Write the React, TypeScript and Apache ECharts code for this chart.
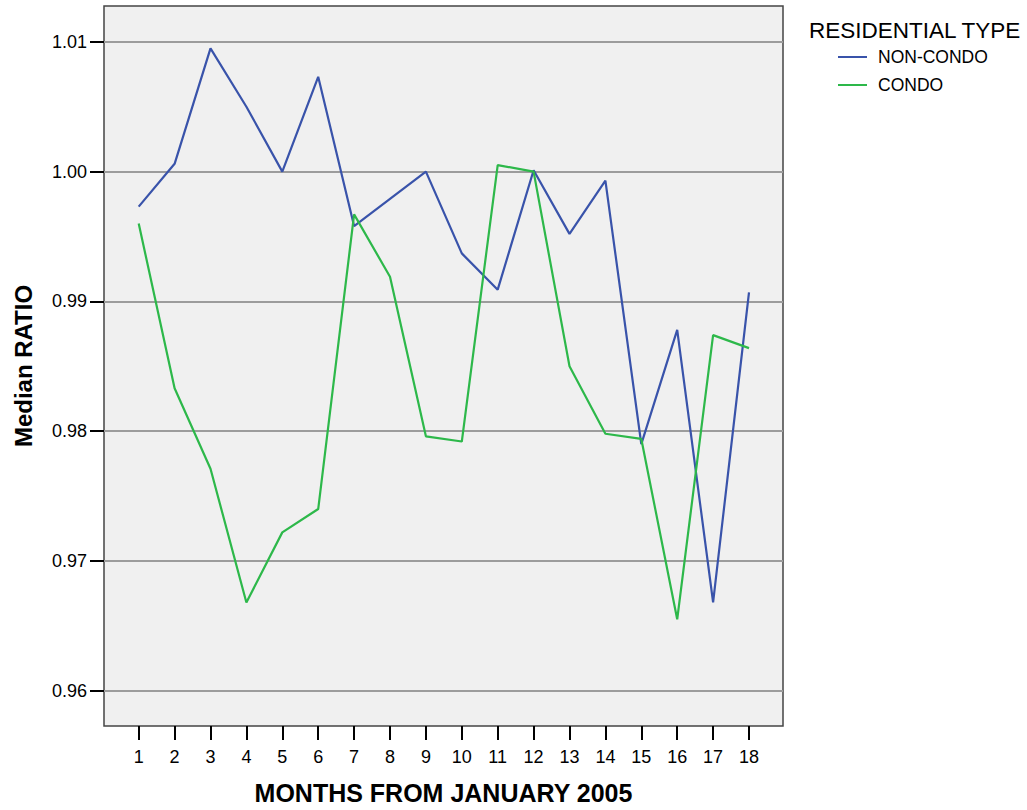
import React, { useEffect, useRef } from "react";
import * as echarts from "echarts";

const months = [1, 2, 3, 4, 5, 6, 7, 8, 9, 10, 11, 12, 13, 14, 15, 16, 17, 18];
const nonCondo = [0.9973, 1.0006, 1.0095, 1.0050, 1.0000, 1.0073, 0.9958, 0.9979, 1.0000, 0.9937, 0.9909, 1.0001, 0.9952, 0.9993, 0.9790, 0.9878, 0.9668, 0.9907];
const condo = [0.9960, 0.9833, 0.9771, 0.9668, 0.9722, 0.9740, 0.9967, 0.9919, 0.9796, 0.9792, 1.0005, 1.0000, 0.9850, 0.9798, 0.9794, 0.9655, 0.9874, 0.9864];
const yTicks = [0.96, 0.97, 0.98, 0.99, 1.0, 1.01];
const seriesNames = ["NON-CONDO", "CONDO"];
const legendTitle = "RESIDENTIAL TYPE";
const xTitle = "MONTHS FROM JANUARY 2005";
const yTitle = "Median RATIO";

const FONT = 'Arial, "Liberation Sans", sans-serif';

export default function App() {
  const ref = useRef<HTMLDivElement>(null);
  useEffect(() => {
    document.body.style.margin = "0";
    const chart = echarts.init(ref.current!, null, { renderer: "svg" });
    chart.setOption({
      animation: false,
      textStyle: { fontFamily: FONT },
      title: {
        text: legendTitle,
        left: 804,
        top: 14,
        textStyle: { fontSize: 22.5, fontWeight: "normal", color: "#000", fontFamily: FONT },
      },
      legend: {
        orient: "vertical",
        left: 833,
        top: 43,
        icon: "rect",
        itemWidth: 29,
        itemHeight: 2,
        itemGap: 10,
        data: seriesNames,
        textStyle: { fontSize: 17.5, color: "#000", fontFamily: FONT, padding: [0, 0, 0, 6] },
      },
      grid: {
        left: 104,
        top: 6,
        right: 244,
        bottom: 80,
        show: true,
        backgroundColor: "#f0f0f0",
        borderColor: "#444",
        borderWidth: 1.5,
      },
      xAxis: {
        type: "value",
        min: 0.0334,
        max: 18.947,
        name: xTitle,
        nameLocation: "middle",
        nameGap: 54,
        nameTextStyle: { fontSize: 25, fontWeight: "bold", color: "#000", fontFamily: FONT },
        axisLine: { show: false },
        axisTick: { show: true, length: 14, customValues: months, lineStyle: { color: "#000", width: 2 } },
        axisLabel: { customValues: months, fontSize: 18, color: "#000", margin: 22, fontFamily: FONT },
        splitLine: { show: false },
      },
      yAxis: {
        type: "value",
        min: 0.95728,
        max: 1.01276,
        name: yTitle,
        nameLocation: "middle",
        nameGap: 69,
        nameRotate: 90,
        nameTextStyle: { fontSize: 24, fontWeight: "bold", color: "#000", fontFamily: FONT },
        axisLine: { show: false },
        axisTick: { show: true, length: 14, customValues: yTicks, lineStyle: { color: "#000", width: 2 } },
        axisLabel: {
          customValues: yTicks,
          fontSize: 18,
          color: "#000",
          margin: 17,
          fontFamily: FONT,
          formatter: (v: number) => v.toFixed(2),
        },
        splitLine: { show: true, lineStyle: { color: "#9c9c9c", width: 2 } },
      },
      series: [
        {
          name: seriesNames[0],
          type: "line",
          symbol: "none",
          data: months.map((m, i) => [m, nonCondo[i]]),
          lineStyle: { color: "#3953aa", width: 2.2 },
          itemStyle: { color: "#3953aa" },
        },
        {
          name: seriesNames[1],
          type: "line",
          symbol: "none",
          data: months.map((m, i) => [m, condo[i]]),
          lineStyle: { color: "#2db84a", width: 2.2 },
          itemStyle: { color: "#2db84a" },
        },
      ],
    });
    return () => chart.dispose();
  }, []);
  return <div ref={ref} style={{ width: 1027, height: 810 }} />;
}
